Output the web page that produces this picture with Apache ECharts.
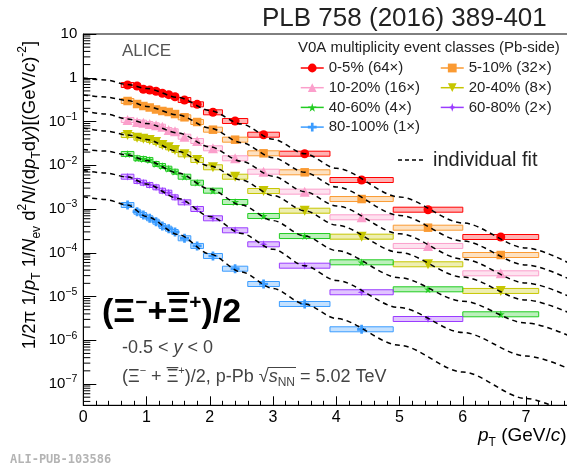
<!DOCTYPE html>
<html><head><meta charset="utf-8">
<script src="https://cdn.jsdelivr.net/npm/echarts@6/dist/echarts.min.js"></script>
<style>html,body{margin:0;padding:0;background:#fff}#c{width:567px;height:475px}</style>
</head><body><div id="c"></div>
<script>
// ---- data ----
const binEdges = [0.6,0.8,0.9,1.0,1.1,1.2,1.3,1.4,1.5,1.7,1.9,2.2,2.6,3.1,3.9,4.9,6.0,7.2];
const ptCenters = [0.7,0.85,0.95,1.05,1.15,1.25,1.35,1.45,1.6,1.8,2.05,2.4,2.85,3.5,4.4,5.45,6.6];
const classNames = ['0-5% (64×)','5-10% (32×)','10-20% (16×)','20-40% (8×)','40-60% (4×)','60-80% (2×)','80-100% (1×)'];
const y0_5   = [0.683,0.648,0.545,0.525,0.490,0.441,0.410,0.369,0.310,0.247,0.1623,0.1027,0.0499,0.01837,0.0046,9.64e-4,2.29e-4];
const y5_10  = [0.294,0.251,0.226,0.209,0.188,0.174,0.165,0.148,0.1247,0.0974,0.065,0.0384,0.01875,0.0069,0.00169,3.74e-4,8.88e-5];
const y10_20 = [0.1082,0.0974,0.0939,0.0877,0.0819,0.0760,0.0639,0.0597,0.0449,0.0358,0.0244,0.01442,0.00712,0.00249,6.46e-4,1.43e-4,3.39e-5];
const y20_40 = [0.0491,0.0426,0.0405,0.0378,0.0340,0.0290,0.0257,0.0223,0.0178,0.0132,0.00898,0.00547,0.00258,9.14e-4,2.33e-4,5.45e-5,1.34e-5];
const y40_60 = [0.0181,0.01442,0.0139,0.0132,0.01068,0.00961,0.00834,0.00712,0.00547,0.00399,0.00262,0.001445,6.92e-4,2.41e-4,6.05e-5,1.46e-5,3.92e-6];
const y60_80 = [0.00547,0.00437,0.00399,0.00354,0.00313,0.00262,0.00236,0.00185,0.00142,0.001,6.13e-4,3.26e-4,1.56e-4,5.06e-5,1.25e-5,3.06e-6];
const y80_100 = [0.001234,8.68e-4,7.29e-4,6.13e-4,5.13e-4,4.09e-4,3.55e-4,2.98e-4,2.14e-4,1.43e-4,8.43e-5,4.32e-5,1.93e-5,6.74e-6,1.78e-6];
// individual fits, read at these pT values
const fitPt = [0,0.35,0.7,1.0,1.5,2.0,2.5,3.0,3.5,4.0,5.0,6.0,7.0,8.0];
const fit0_5   = [0.987,0.888,0.701,0.568,0.354,0.1784,0.0877,0.0392,0.01837,0.00852,0.00188,4.79e-4,1.284e-4,3.27e-5];
const fit5_10  = [0.4034,0.363,0.302,0.2203,0.1408,0.0710,0.03277,0.01488,0.0069,0.003184,7.14e-4,1.856e-4,5.25e-5,1.484e-5];
const fit10_20 = [0.1738,0.1484,0.1141,0.09,0.0546,0.02641,0.01231,0.005591,0.002486,0.001177,2.725e-4,7.16e-5,2.034e-5,6.07e-6];
const fit20_40 = [0.0710,0.0607,0.0491,0.03878,0.02062,0.00961,0.0046,0.002034,9.14e-4,4.285e-4,1.013e-4,2.776e-5,8.32e-6,2.613e-6];
const fit40_60 = [0.02291,0.02117,0.01715,0.01284,0.006651,0.00285,0.001228,5.43e-4,2.415e-4,1.12e-4,2.69e-5,7.81e-6,2.479e-6,7.79e-7];
const fit60_80 = [0.007586,0.006651,0.005387,0.003727,0.001738,6.77e-4,2.769e-4,1.205e-4,5.06e-5,2.32e-5,5.575e-6,1.504e-6,4.365e-7,1.371e-7];
const fit80_100 = [0.001911,0.00165,0.001234,6.74e-4,2.613e-4,9.36e-5,3.63e-5,1.524e-5,6.74e-6,3.14e-6,7.67e-7,1.88e-7,4.66e-8,1.156e-8];
const xTickLabels = ['0','1','2','3','4','5','6','7'];
const yTickExps = [1,0,-1,-2,-3,-4,-5,-6,-7];
const yTickLabels = ['10','1','10{e|−1}','10{e|−2}','10{e|−3}','10{e|−4}','10{e|−5}','10{e|−6}','10{e|−7}'];

// ---- styling ----
const FONT = 'Liberation Sans, Arial, sans-serif';
const colors = ['#ff0000','#fa9a32','#fb9fcb','#c6c600','#22cc22','#9a3cff','#3b9cff'];
const fills  = ['rgba(255,0,0,0.3)','rgba(250,154,50,0.3)','rgba(251,159,203,0.3)','rgba(198,198,0,0.3)','rgba(34,204,34,0.3)','rgba(154,60,255,0.3)','rgba(59,156,255,0.3)'];
const symbols = ['circle','rect','triangle','path://M0,0 L100,0 L50,87 Z',
  'path://M50,0 L61,35 L98,35 L68,57 L79,91 L50,70 L21,91 L32,57 L2,35 L39,35 Z',
  'path://M50,0 L62,38 L100,50 L62,62 L50,100 L38,62 L0,50 L38,38 Z',
  'path://M35,0 H65 V35 H100 V65 H65 V100 H35 V65 H0 V35 H35 Z'];
const symSizes = [9,8.5,10,10,8,8,9];
const yData = [y0_5,y5_10,y10_20,y20_40,y40_60,y60_80,y80_100];
const fitData = [fit0_5,fit5_10,fit10_20,fit20_40,fit40_60,fit60_80,fit80_100];
const Y_MIN = 3.26e-8, Y_MAX = 10;

const series = [];
yData.forEach((ys, i) => {
  series.push({
    name: classNames[i], type: 'line', z: 3, silent: true,
    data: ys.map((v, j) => [ptCenters[j], v]),
    symbol: symbols[i], symbolSize: symSizes[i], showSymbol: true,
    itemStyle: {color: colors[i]},
    lineStyle: {color: colors[i], opacity: 0, width: 0},
    emphasis: {disabled: true}
  });
});
yData.forEach((ys, i) => {
  series.push({
    name: 'sys' + i, type: 'custom', z: 2, silent: true, clip: true,
    data: ys.map((v, j) => [binEdges[j], binEdges[j+1], v]),
    encode: {x: [0, 1], y: 2},
    renderItem: (params, api) => {
      const p1 = api.coord([api.value(0), api.value(2)]);
      const p2 = api.coord([api.value(1), api.value(2)]);
      return {type: 'rect', shape: {x: p1[0], y: p1[1] - 2.5, width: p2[0] - p1[0], height: 5},
        style: {fill: fills[i], stroke: colors[i], lineWidth: 1}};
    }
  });
});
fitData.forEach((f, i) => {
  series.push({
    name: 'fit' + i, type: 'line', z: 4, silent: true, clip: true,
    data: f.map((v, j) => [fitPt[j], v]),
    symbol: 'none', smooth: 0.3, smoothMonotone: 'x',
    lineStyle: {color: '#000', width: 1.5, type: [5, 4]},
    emphasis: {disabled: true}
  });
});
// log minor ticks on the y axis
const minorVals = [];
for (let e = -8; e <= 0; e++) for (let k = 2; k <= 9; k++) {
  const v = k * Math.pow(10, e);
  if (v > Y_MIN && v < Y_MAX) minorVals.push([0, v]);
}
series.push({
  name: 'yminor', type: 'custom', z: 5, silent: true,
  data: minorVals, encode: {x: 0, y: 1},
  renderItem: (params, api) => {
    const p = api.coord([api.value(0), api.value(1)]);
    return {type: 'line', shape: {x1: p[0], y1: p[1], x2: p[0] + 7, y2: p[1]}, style: {stroke: '#000', lineWidth: 1}};
  }
});

// text measuring helper for overbars
const mctx = document.createElement('canvas').getContext('2d');
function tw(t, font) { mctx.font = font; return mctx.measureText(t).width; }
const bigF = 'bold 34px ' + FONT, bigS = 'bold 21px ' + FONT;
const bigBarX = 102 + tw('(Ξ', bigF) + tw('−', bigS) + tw('+', bigF);
const bigBarW = tw('Ξ', bigF);
const smF = '18px ' + FONT, smS = '11px ' + FONT, smI = 'italic 18px ' + FONT, smB = '12px ' + FONT;
const smBarX = 122 + tw('(Ξ', smF) + tw('−', smS) + tw(' + ', smF);
const smBarW = tw('Ξ', smF);
const sqX = 122 + tw('(Ξ', smF) + tw('−', smS) + tw(' + Ξ', smF) + tw('+', smS) + tw(')/2, p-Pb √', smF);
const sqW = tw('s', smI) + tw('NN', smB);

const legendCommon = {
  orient: 'vertical', itemWidth: 23, itemHeight: 11, itemGap: 2.7, padding: 0,
  selectedMode: false,
  textStyle: {fontSize: 15, lineHeight: 17, color: '#222', fontFamily: FONT},
  lineStyle: {width: 1.5, opacity: 1}
};

const chart = echarts.init(document.getElementById('c'), null, {renderer: 'canvas'});
chart.setOption({
  animation: false,
  backgroundColor: '#fff',
  grid: {left: 83.3, top: 34, right: -22.3, bottom: 69.7, show: true, borderColor: '#000', borderWidth: 1,
    containLabel: false, outerBoundsMode: 'none'},
  xAxis: {
    type: 'value', min: 0, max: 8, interval: 1,
    axisLine: {show: true, lineStyle: {color: '#000', width: 1}},
    axisTick: {show: true, inside: true, length: 9, lineStyle: {color: '#000'}},
    minorTick: {show: true, splitNumber: 5, length: 4.5, lineStyle: {color: '#000'}},
    splitLine: {show: false},
    axisLabel: {margin: 4, fontSize: 16, color: '#000', fontFamily: FONT,
      formatter: v => (Number.isInteger(v) && v < xTickLabels.length) ? xTickLabels[v] : ''}
  },
  yAxis: {
    type: 'log', logBase: 10, min: Y_MIN, max: Y_MAX,
    axisLine: {show: true, lineStyle: {color: '#000', width: 1}},
    axisTick: {show: true, inside: true, length: 13, lineStyle: {color: '#000'}},
    splitLine: {show: false},
    axisLabel: {margin: 6, fontSize: 15, color: '#000', fontFamily: FONT, lineHeight: 20,
      rich: {e: {fontSize: 10.5, lineHeight: 10, verticalAlign: 'top', fontFamily: FONT, color: '#000'}},
      formatter: v => {
        const l = Math.log10(v), e = Math.round(l);
        if (Math.abs(l - e) > 1e-6) return '';
        const idx = yTickExps.indexOf(e);
        return idx >= 0 ? yTickLabels[idx] : '';
      }}
  },
  legend: [
    Object.assign({}, legendCommon, {left: 300, top: 59.5, data: [classNames[0], classNames[2], classNames[4], classNames[6]]}),
    Object.assign({}, legendCommon, {left: 440, top: 59.5, data: [classNames[1], classNames[3], classNames[5]]})
  ],
  series: series,
  graphic: [
    {type: 'text', x: 262, y: 18.5, z: 100, silent: true,
      style: {text: 'PLB 758 (2016) 389-401', font: '26px ' + FONT, fill: '#222', align: 'left', verticalAlign: 'middle'}},
    {type: 'text', x: 298, y: 47.5, z: 100, silent: true,
      style: {text: 'V0A multiplicity event classes (Pb-side)', font: '15px ' + FONT, fill: '#222', align: 'left', verticalAlign: 'middle'}},
    {type: 'text', x: 122, y: 51, z: 100, silent: true,
      style: {text: 'ALICE', font: '17px ' + FONT, fill: '#555', align: 'left', verticalAlign: 'middle'}},
    {type: 'line', z: 100, silent: true, shape: {x1: 398, y1: 160, x2: 426, y2: 160},
      style: {stroke: '#000', lineWidth: 1.5, lineDash: [4, 3]}},
    {type: 'text', x: 433, y: 160, z: 100, silent: true,
      style: {text: 'individual fit', font: '20px ' + FONT, fill: '#222', align: 'left', verticalAlign: 'middle'}},
    {type: 'text', x: 102, y: 313, z: 100, silent: true,
      style: {text: '(Ξ{s|−}+Ξ{s|+})/2', font: bigF, lineHeight: 40, fill: '#000', align: 'left', verticalAlign: 'middle',
        rich: {s: {fontSize: 21, fontWeight: 'bold', lineHeight: 24, verticalAlign: 'top', fontFamily: FONT, fill: '#000'}}}},
    {type: 'rect', z: 100, silent: true, shape: {x: bigBarX, y: 292, width: bigBarW, height: 3}, style: {fill: '#000'}},
    {type: 'text', x: 122, y: 348, z: 100, silent: true,
      style: {text: '-0.5 < {i|y} < 0', font: smF, lineHeight: 22, fill: '#444', align: 'left', verticalAlign: 'middle',
        rich: {i: {fontSize: 18, fontStyle: 'italic', lineHeight: 22, fontFamily: FONT, fill: '#444'}}}},
    {type: 'text', x: 122, y: 377, z: 100, silent: true,
      style: {text: '(Ξ{p|−} + Ξ{p|+})/2, p-Pb √{i|s}{b|NN} = 5.02 TeV', font: smF, lineHeight: 24, fill: '#444', align: 'left', verticalAlign: 'middle',
        rich: {p: {fontSize: 11, lineHeight: 11, verticalAlign: 'top', fontFamily: FONT, fill: '#444'},
               b: {fontSize: 12, lineHeight: 12, verticalAlign: 'bottom', fontFamily: FONT, fill: '#444'},
               i: {fontSize: 18, fontStyle: 'italic', lineHeight: 24, fontFamily: FONT, fill: '#444'}}}},
    {type: 'rect', z: 100, silent: true, shape: {x: smBarX, y: 367, width: smBarW, height: 1.2}, style: {fill: '#444'}},
    {type: 'rect', z: 100, silent: true, shape: {x: sqX - 1, y: 367, width: sqW + 2, height: 1}, style: {fill: '#444'}},
    {type: 'text', x: 478, y: 436, z: 100, silent: true,
      style: {text: '{i|p}{b|T} (GeV/{i|c})', font: '19px ' + FONT, lineHeight: 26, fill: '#000', align: 'left', verticalAlign: 'middle',
        rich: {i: {fontSize: 19, fontStyle: 'italic', lineHeight: 26, fontFamily: FONT, fill: '#000'},
               b: {fontSize: 12, lineHeight: 14, verticalAlign: 'bottom', fontFamily: FONT, fill: '#000'}}}},
    {type: 'text', x: 30, y: 195, rotation: Math.PI / 2, z: 100, silent: true,
      style: {text: '1/2π 1/{i|p}{b|T} 1/{i|N}{b|ev} d{p|2}{i|N}/(d{i|p}{b|T}d{i|y})[(GeV/{i|c}){p|-2}]',
        font: '18.5px ' + FONT, lineHeight: 26, fill: '#000', align: 'center', verticalAlign: 'middle',
        rich: {i: {fontSize: 18.5, fontStyle: 'italic', lineHeight: 26, fontFamily: FONT, fill: '#000'},
               b: {fontSize: 12, lineHeight: 14, verticalAlign: 'bottom', fontFamily: FONT, fill: '#000'},
               p: {fontSize: 12, lineHeight: 14, verticalAlign: 'top', fontFamily: FONT, fill: '#000'}}}},
    {type: 'text', x: 10, y: 460, z: 100, silent: true,
      style: {text: 'ALI-PUB-103586', font: 'bold 12px DejaVu Sans Mono, monospace', fill: '#b4b4b4', align: 'left', verticalAlign: 'middle'}}
  ]
});
</script></body></html>
